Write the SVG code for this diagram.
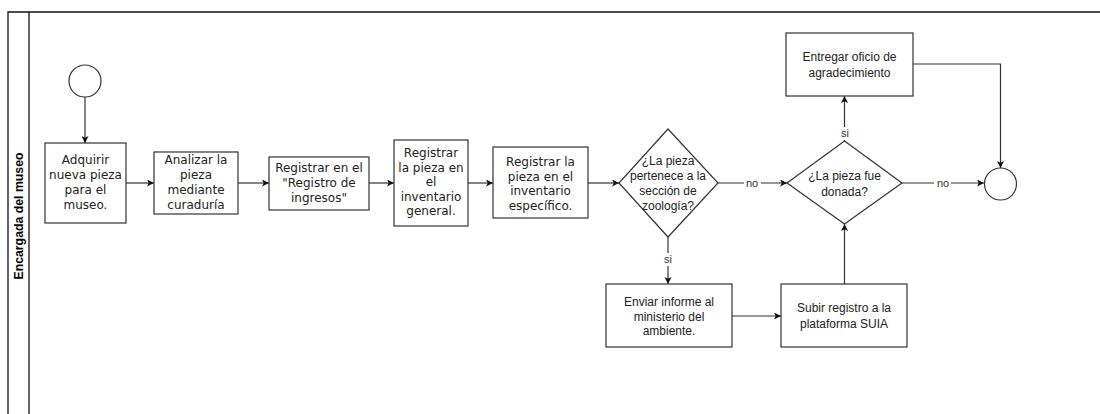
<svg xmlns="http://www.w3.org/2000/svg" width="1100" height="414" viewBox="0 0 1100 414">
<style>
.box{fill:#fff;stroke:#333;stroke-width:1.2}
.ev{fill:#fff;stroke:#333;stroke-width:1.2}
.c{fill:none;stroke:#333;stroke-width:1.2}
.t1{font-family:"DejaVu Sans",Verdana,sans-serif;font-size:12px;fill:#222;text-anchor:middle}
.t2{font-family:"Liberation Sans",Arial,sans-serif;font-size:12px;fill:#222;text-anchor:middle}
.lbl{font-family:"Liberation Sans",Arial,sans-serif;font-size:11px;fill:#333;text-anchor:middle}
.lane{font-family:"Liberation Sans",Arial,sans-serif;font-size:12.3px;font-weight:bold;fill:#000;text-anchor:middle}
</style>
<defs>
<marker id="ah" viewBox="0 0 10 10" refX="10" refY="5" markerWidth="7" markerHeight="7" orient="auto" markerUnits="userSpaceOnUse">
<path d="M0,0 L10,5 L0,10 L2.5,5 z" fill="#111"/>
</marker>
</defs>
<rect width="1100" height="414" fill="#fff"/>
<g id="pool">
<path d="M1100,12 H8 V414 M29,12 V414" fill="none" stroke="#111" stroke-width="1.3"/>
<text class="lane" transform="translate(22.5,216) rotate(-90)">Encargada del museo</text>
</g>
<g id="connectors">
<path class="c" d="M85,97 V143" marker-end="url(#ah)"/>
<path class="c" d="M126,183 H154" marker-end="url(#ah)"/>
<path class="c" d="M238,183 H269" marker-end="url(#ah)"/>
<path class="c" d="M369,183 H394" marker-end="url(#ah)"/>
<path class="c" d="M468,183 H493" marker-end="url(#ah)"/>
<path class="c" d="M588,183 H619" marker-end="url(#ah)"/>
<path class="c" d="M718,183 H787" marker-end="url(#ah)"/>
<rect x="744" y="176" width="17" height="13" fill="#fff"/>
<text class="lbl" x="752" y="187">no</text>
<path class="c" d="M902,183 H984" marker-end="url(#ah)"/>
<rect x="934" y="176" width="17" height="13" fill="#fff"/>
<text class="lbl" x="943" y="187">no</text>
<path class="c" d="M844.5,141 V96" marker-end="url(#ah)"/>
<rect x="839" y="127" width="11" height="13" fill="#fff"/>
<text class="lbl" x="845" y="137">si</text>
<path class="c" d="M668,237 V284" marker-end="url(#ah)"/>
<rect x="663" y="253" width="11" height="13" fill="#fff"/>
<text class="lbl" x="668" y="263">si</text>
<path class="c" d="M732,316 H781" marker-end="url(#ah)"/>
<path class="c" d="M844.5,284 V224" marker-end="url(#ah)"/>
<path class="c" d="M913,64 H1000.5 V168" marker-end="url(#ah)"/>
</g>
<g id="start"><circle class="ev" cx="85" cy="81" r="16"/></g>
<g id="n1"><rect class="box" x="45" y="143" width="81" height="80"/>
<text class="t1" x="85.5" y="164">Adquirir</text><text class="t1" x="85.5" y="179">nueva pieza</text><text class="t1" x="85.5" y="194">para el</text><text class="t1" x="85.5" y="209">museo.</text></g>
<g id="n2"><rect class="box" x="154" y="152" width="84" height="62"/>
<text class="t1" x="196" y="164">Analizar la</text><text class="t1" x="196" y="179">pieza</text><text class="t1" x="196" y="194">mediante</text><text class="t1" x="196" y="209">curaduría</text></g>
<g id="n3"><rect class="box" x="269" y="157" width="100" height="53"/>
<text class="t1" x="319" y="172">Registrar en el</text><text class="t1" x="319" y="187">"Registro de</text><text class="t1" x="319" y="202">ingresos"</text></g>
<g id="n4"><rect class="box" x="394" y="140" width="74" height="86"/>
<text class="t1" x="431" y="157">Registrar</text><text class="t1" x="431" y="171.5">la pieza en</text><text class="t1" x="431" y="186">el</text><text class="t1" x="431" y="200.5">inventario</text><text class="t1" x="431" y="215">general.</text></g>
<g id="n5"><rect class="box" x="493" y="147" width="95" height="71"/>
<text class="t1" x="540.5" y="166">Registrar la</text><text class="t1" x="540.5" y="180.5">pieza en el</text><text class="t1" x="540.5" y="195">inventario</text><text class="t1" x="540.5" y="209.5">específico.</text></g>
<g id="d1"><path class="box" d="M668,129 L718,183 L668,237 L619,183 Z"/>
<text class="t2" x="668" y="165">¿La pieza</text><text class="t2" x="668" y="180">pertenece a la</text><text class="t2" x="668" y="195">sección de</text><text class="t2" x="668" y="210">zoología?</text></g>
<g id="d2"><path class="box" d="M844.5,141 L902,183 L844.5,224 L787,183 Z"/>
<text class="t2" x="844.5" y="180">¿La pieza fue</text><text class="t2" x="844.5" y="196">donada?</text></g>
<g id="n6"><rect class="box" x="786" y="33" width="127" height="63"/>
<text class="t2" x="849.5" y="61">Entregar oficio de</text><text class="t2" x="849.5" y="77">agradecimiento</text></g>
<g id="n7"><rect class="box" x="606" y="284" width="126" height="63"/>
<text class="t2" x="669" y="306">Enviar informe al</text><text class="t2" x="669" y="320.5">ministerio del</text><text class="t2" x="669" y="335">ambiente.</text></g>
<g id="n8"><rect class="box" x="781" y="284" width="126" height="63"/>
<text class="t2" x="844" y="312">Subir registro a la</text><text class="t2" x="844" y="328">plataforma SUIA</text></g>
<g id="end"><circle class="ev" cx="1000.5" cy="184" r="16"/></g>
</svg>
